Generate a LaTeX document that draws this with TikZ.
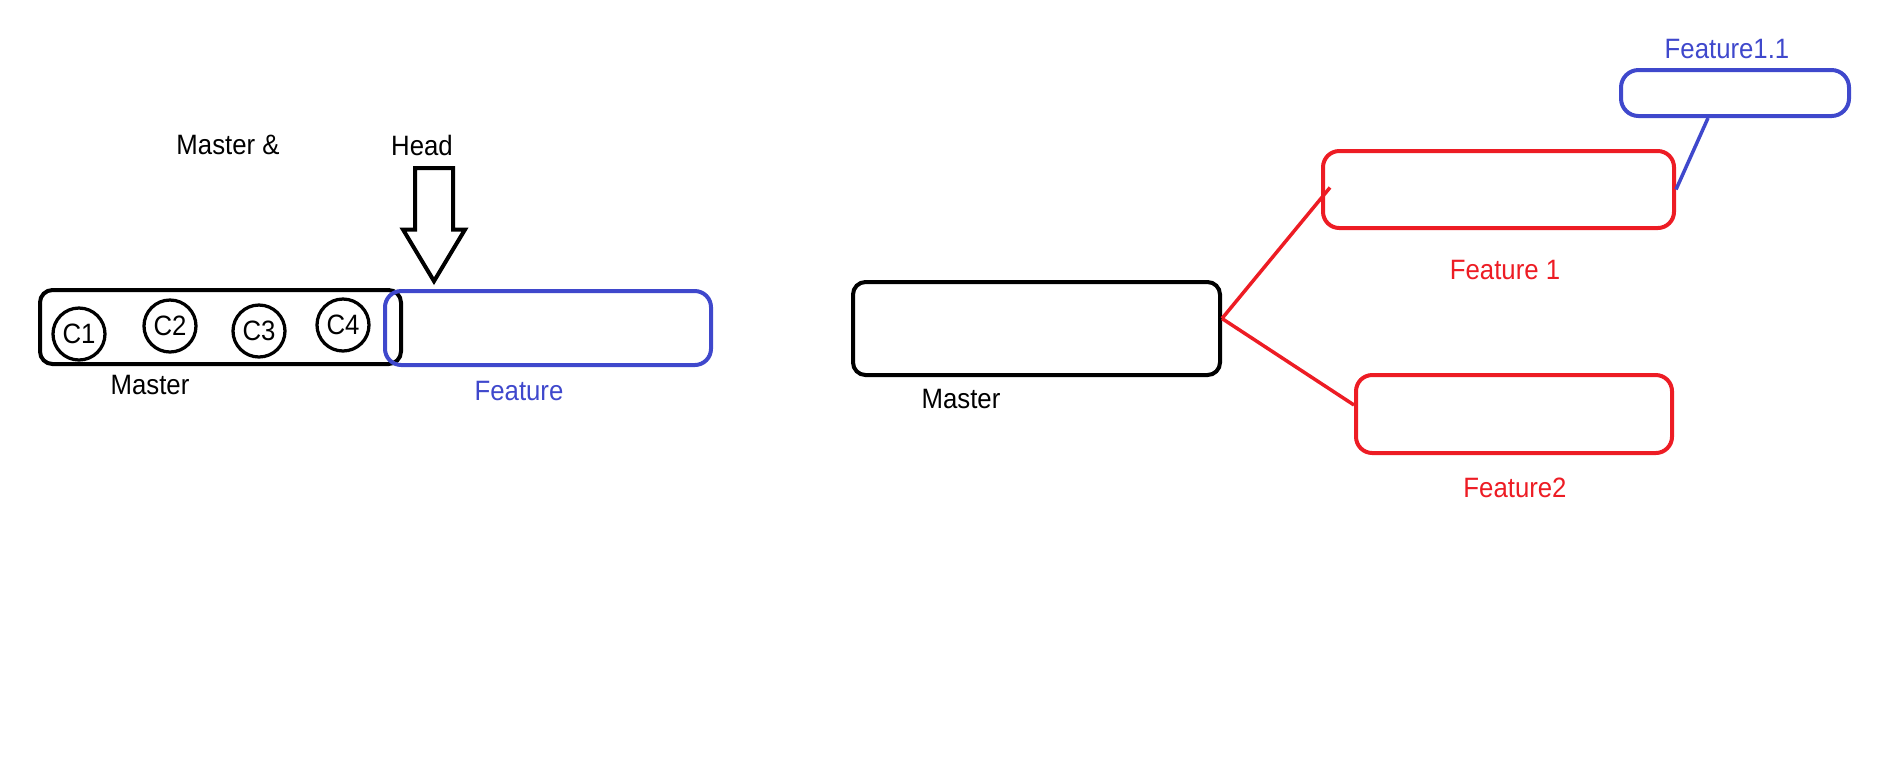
\documentclass[tikz,border=0pt]{standalone}
\usepackage{fontspec}
\setmainfont[FakeStretch=0.92]{Liberation Sans}
\usetikzlibrary{shapes.arrows,calc}
\definecolor{pblue}{RGB}{63,72,204}
\definecolor{pred}{RGB}{237,28,36}
\begin{document}
\begin{tikzpicture}[x=0.4pt,y=-0.4pt,
  every node/.style={font=\fontsize{11.2pt}{13pt}\selectfont},
  branchbox/.style 2 args={draw, line width=1.6pt, rounded corners=5pt, inner sep=0pt,
    minimum width=#1*0.4pt, minimum height=#2*0.4pt},
  commit/.style={circle, draw, line width=1.3pt, inner sep=0pt, minimum size=52*0.4pt},
  headarrow/.style={single arrow, draw, line width=1.6pt, shape border rotate=270,
    minimum height=113*0.4pt, minimum width=58*0.4pt,
    single arrow head extend=12*0.4pt, single arrow tip angle=62, inner sep=6.8pt}]
\useasboundingbox (0,0) rectangle (1879,783);
% linear history
\node[branchbox={361}{74}] (masterL) at (220.5,327){};
\node[commit] (c1) at (79,334){C1};
\node[commit] (c2) at (170,326){C2};
\node[commit] (c3) at (259,331){C3};
\node[commit] (c4) at (343,325){C4};
\node[branchbox={326}{74}, pblue, rounded corners=6.5pt] (featL) at (548,328){};
\node (masterLlbl) at (150,385){Master};
\node[pblue] (featLlbl) at (519,391){Feature};
\node (masterhead) at (228,145){Master \&};
\node (headlbl) at (422,145){Head};
\node[headarrow, anchor=tip] (headarr) at (434,285){};
% branches
\node[branchbox={367}{93}] (masterR) at (1036.5,328.5){};
\node (masterRlbl) at (961,399){Master};
\node[branchbox={351}{77}, pred, rounded corners=6.5pt] (feat1) at (1498.5,189.5){};
\node[pred] (feat1lbl) at (1505,270){Feature 1};
\node[branchbox={316}{78}, pred, rounded corners=6.5pt] (feat2) at (1514,414){};
\node[pred] (feat2lbl) at (1515,488){Feature2};
\node[branchbox={228}{46}, pblue, rounded corners=7pt] (feat11) at (1735,93){};
\node[pblue] (feat11lbl) at (1727,49){Feature1.1};
\draw[pred, line width=1.4pt] ($(masterR.east)+(0,-10)$) -- ($(feat1.west)+(9,-2)$);
\draw[pred, line width=1.4pt] ($(masterR.east)+(0,-10)$) -- ($(feat2.west)+(0,-9)$);
\draw[pblue, line width=1.4pt] ($(feat11.south)+(-27,0)$) -- (feat1.east);
\end{tikzpicture}
\end{document}
